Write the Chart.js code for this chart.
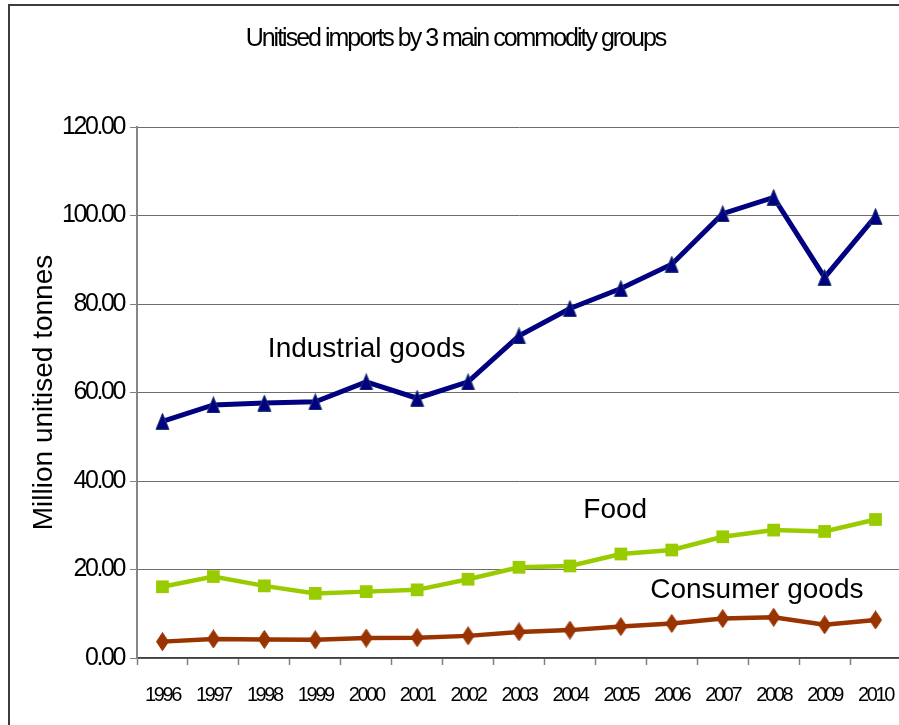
<!DOCTYPE html>
<html lang="en">
<head>
    <meta charset="UTF-8">
    <title>Unitised imports by 3 main commodity groups</title>
    <script src="https://cdn.jsdelivr.net/npm/chart.js@4.4.0/dist/chart.umd.min.js"></script>
    <style>
        body {
            margin: 0;
            overflow: hidden;
            background: #fff;
        }

        #frame {
            position: absolute;
            left: 8px;
            top: 4px;
            width: 2000px;
            height: 2000px;
            border-left: 2px solid #3c3c3c;
            border-top: 2px solid #3c3c3c;
        }

        #chart {
            position: absolute;
            left: 0;
            top: 0;
        }
    </style>
</head>

<body>
    <div id="frame"></div>
    <canvas id="chart" width="910" height="725"></canvas>

    <script>
        const years = ['1996', '1997', '1998', '1999', '2000', '2001', '2002', '2003',
            '2004', '2005', '2006', '2007', '2008', '2009', '2010'];
        const industrialGoods = [53.5, 57.2, 57.6, 57.9, 62.4, 58.7, 62.4, 72.8,
            79.0, 83.5, 89.0, 100.4, 104.1, 86.0, 99.8];
        const food = [16.1, 18.4, 16.3, 14.6, 15.0, 15.4, 17.8, 20.5,
            20.8, 23.5, 24.4, 27.4, 28.9, 28.6, 31.3];
        const consumerGoods = [3.7, 4.3, 4.2, 4.1, 4.5, 4.6, 5.0, 5.9,
            6.3, 7.1, 7.8, 8.9, 9.2, 7.5, 8.6];
        const yTicks = [0, 20, 40, 60, 80, 100, 120];

        // marker shapes (tall triangle and diamond like the original)
        function makeMarker(w, h, pts, fill, stroke) {
            const c = document.createElement('canvas');
            c.width = w;
            c.height = h;
            const g = c.getContext('2d');
            g.beginPath();
            g.moveTo(pts[0][0], pts[0][1]);
            for (let i = 1; i < pts.length; i++) g.lineTo(pts[i][0], pts[i][1]);
            g.closePath();
            g.fillStyle = fill;
            g.fill();
            g.strokeStyle = stroke;
            g.lineWidth = 1;
            g.stroke();
            return c;
        }
        const triangle = makeMarker(15, 17, [[7.5, 0.5], [14, 16.5], [1, 16.5]], '#000080', '#1d3c6e');
        const diamond = makeMarker(13, 19, [[6.5, 0.5], [12.5, 9.5], [6.5, 18.5], [0.5, 9.5]], '#993300', '#993300');

        // the original text is squeezed tight, so draw some labels with negative letter spacing
        function squeeze(obj, method, spacing) {
            const orig = obj[method];
            obj[method] = function (...a) {
                const c = this.ctx;
                const prev = c.letterSpacing;
                c.letterSpacing = spacing;
                orig.apply(this, a);
                c.letterSpacing = prev;
            };
        }
        const tightText = {
            id: 'tightText',
            beforeDraw(chart) {
                if (chart._squeezed) return;
                chart._squeezed = true;
                squeeze(chart.scales.x, 'drawLabels', '-2.4px');
                squeeze(chart.scales.y, 'drawLabels', '-2.4px');
                if (chart.titleBlock) squeeze(chart.titleBlock, 'draw', '-2px');
            }
        };

        // text labels next to the lines
        const seriesNotes = {
            id: 'seriesNotes',
            afterDatasetsDraw(chart, args, opts) {
                const ctx = chart.ctx;
                const x = chart.scales.x;
                const y = chart.scales.y;
                ctx.save();
                ctx.font = opts.font;
                ctx.fillStyle = '#000';
                ctx.textAlign = 'center';
                ctx.textBaseline = 'alphabetic';
                opts.items.forEach(n => {
                    ctx.fillText(n.text, x.getPixelForValue(n.at), y.getPixelForValue(n.value));
                });
                ctx.restore();
            }
        };

        const ctx = document.getElementById('chart').getContext('2d');
        const myChart = new Chart(ctx, {
            type: 'line',
            data: {
                labels: years,
                datasets: [{
                    label: 'Industrial goods',
                    data: industrialGoods,
                    borderColor: '#000080',
                    backgroundColor: '#000080',
                    borderWidth: 5,
                    pointStyle: triangle,
                    tension: 0
                }, {
                    label: 'Food',
                    data: food,
                    borderColor: '#99cc00',
                    backgroundColor: '#99cc00',
                    borderWidth: 4.5,
                    pointStyle: 'rect',
                    pointRadius: 9,
                    pointBorderWidth: 0,
                    tension: 0
                }, {
                    label: 'Consumer goods',
                    data: consumerGoods,
                    borderColor: '#993300',
                    backgroundColor: '#993300',
                    borderWidth: 4.5,
                    pointStyle: diamond,
                    tension: 0
                }]
            },
            options: {
                responsive: false,
                animation: false,
                layout: {
                    padding: { left: 1, right: 0, top: 0, bottom: 0 }
                },
                plugins: {
                    legend: { display: false },
                    tooltip: { enabled: false },
                    title: {
                        display: true,
                        text: 'Unitised imports by 3 main commodity groups',
                        color: '#000',
                        font: { family: '"Liberation Sans"', size: 25, weight: 'normal' },
                        padding: { top: 24, bottom: 73 }
                    },
                    seriesNotes: {
                        font: '28px "Liberation Sans"',
                        items: [
                            { text: 'Industrial goods', at: 4.01, value: 68.0 },
                            { text: 'Food', at: 8.89, value: 31.6 },
                            { text: 'Consumer goods', at: 11.67, value: 13.6 }
                        ]
                    }
                },
                scales: {
                    x: {
                        offset: true,
                        afterFit: (scale) => {
                            scale.height = 67;
                            scale.paddingLeft = 0;
                            scale.paddingRight = 0;
                        },
                        grid: {
                            offset: true,
                            drawOnChartArea: false,
                            tickLength: 7,
                            tickColor: '#808080',
                            tickWidth: 1.5
                        },
                        border: { color: '#404040', width: 1.5 },
                        ticks: {
                            color: '#000',
                            padding: 18,
                            maxRotation: 0,
                            autoSkip: false,
                            font: { family: '"Liberation Sans"', size: 20 }
                        }
                    },
                    y: {
                        min: 0,
                        max: 120,
                        afterFit: (scale) => { scale.width = 136; },
                        afterBuildTicks: (scale) => { scale.ticks = yTicks.map(v => ({ value: v })); },
                        grid: {
                            color: '#6e6e6e',
                            lineWidth: 1,
                            tickLength: 7,
                            tickColor: '#808080'
                        },
                        border: { color: '#868686', width: 2 },
                        ticks: {
                            color: '#000',
                            padding: 6,
                            font: { family: '"Liberation Sans"', size: 25 },
                            callback: function (value) {
                                return value.toFixed(2);
                            }
                        },
                        title: {
                            display: true,
                            text: 'Million unitised tonnes',
                            color: '#000',
                            font: { family: '"Liberation Sans"', size: 28 },
                            padding: { top: 26, bottom: 0 }
                        }
                    }
                }
            },
            plugins: [tightText, seriesNotes]
        });
    </script>

</body>

</html>
